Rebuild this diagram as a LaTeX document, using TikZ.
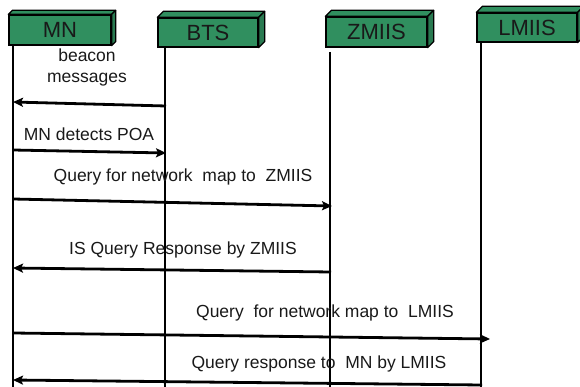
\documentclass[tikz,border=0pt]{standalone}
\usepackage{fontspec}
\setmainfont{Liberation Sans}
\usetikzlibrary{arrows.meta}
\definecolor{boxgreen}{RGB}{48,143,95}
\tikzset{
  actor/.style={draw=black, line width=1.3pt, fill=boxgreen, inner sep=0pt,
    font=\fontsize{22}{25}\selectfont, text=black!90},
  life/.style={line width=2.8pt, black},
  msg/.style={line width=2.8pt, black, -{Stealth[length=10pt,width=9pt,inset=2pt]}},
  lbl/.style={font=\fontsize{17.5}{20}\selectfont, text=black!90, inner sep=0pt, align=center}
}
\newcommand{\boxdepth}[2]{%
  \filldraw[fill=boxgreen, draw=black, line width=1.3pt, line join=round]
    (#1.north west) -- ++(#2,-#2) -- ([shift={(#2,-#2)}]#1.north east) -- (#1.north east) -- cycle;
  \filldraw[fill=boxgreen!85!black, draw=black, line width=1.3pt, line join=round]
    (#1.north east) -- ++(#2,-#2) -- ([shift={(#2,-#2)}]#1.south east) -- (#1.south east) -- cycle;
}
\begin{document}
\begin{tikzpicture}[x=1pt,y=-1pt]
\useasboundingbox (0,0) rectangle (580,387);
% actors
\node[actor, minimum width=102pt, minimum height=30pt] (mn) at (60,30) {MN};
\node[actor, minimum width=100pt, minimum height=29pt] (bts) at (208,32.5) {BTS};
\node[actor, minimum width=101pt, minimum height=30pt] (zm) at (376.5,32) {ZMIIS};
\node[actor, minimum width=100pt, minimum height=29pt] (lm) at (527,27.5) {LMIIS};
\boxdepth{mn}{4}
\boxdepth{bts}{6}
\boxdepth{zm}{6}
\boxdepth{lm}{6}
% lifeline ends
\coordinate (mnT) at (13,45);   \coordinate (mnB) at (13,390);
\coordinate (btsT) at (165,47); \coordinate (btsB) at (165,390);
\coordinate (zmT) at (330,52);  \coordinate (zmB) at (330,390);
\coordinate (lmT) at (481,42);  \coordinate (lmB) at (481,390);
\draw[life] (mnT) -- (mnB);
\draw[life] (btsT) -- (btsB);
\draw[life] (zmT) -- (zmB);
\draw[life] (lmT) -- (lmB);
% message end points
\coordinate (a1s) at (166,106); \coordinate (a1e) at (13,102);
\coordinate (a2s) at (13,150);  \coordinate (a2e) at (166,153);
\coordinate (a3s) at (13,199);  \coordinate (a3e) at (332,206);
\coordinate (a4s) at (331,272); \coordinate (a4e) at (13,268);
\coordinate (a5s) at (13,333);  \coordinate (a5e) at (490,339);
\coordinate (a6s) at (482,385); \coordinate (a6e) at (13,380);
\draw[msg] (a1s) -- (a1e);
\draw[msg] (a2s) -- (a2e);
\draw[msg] (a3s) -- (a3e);
\draw[msg] (a4s) -- (a4e);
\draw[msg] (a5s) -- (a5e);
\draw[msg] (a6s) -- (a6e);
% labels
\node[lbl] (l1) at (87,67) {beacon\\[1pt]messages};
\node[lbl] (l2) at (89,134) {MN detects POA};
\node[lbl] (l3) at (183,177) {Query for network~ map to~ ZMIIS};
\node[lbl] (l4) at (183,250) {IS Query Response by ZMIIS};
\node[lbl] (l5) at (325,313) {Query~ for network map to~ LMIIS};
\node[lbl] (l6) at (319,364) {Query response to~ MN by LMIIS};
\end{tikzpicture}
\end{document}
